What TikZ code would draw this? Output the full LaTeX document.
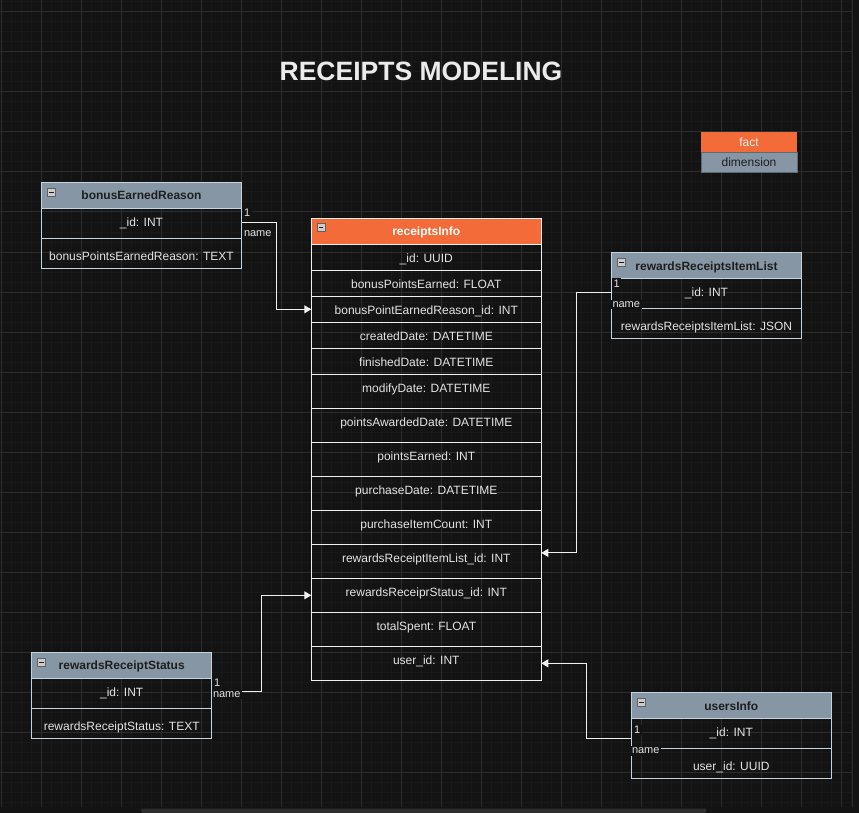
\documentclass[tikz,border=0pt]{standalone}
\usepackage{fontspec}
\setmainfont{Liberation Sans}
\usetikzlibrary{positioning,arrows.meta}
\definecolor{erbg}{RGB}{19,19,19}
\definecolor{ergridminor}{RGB}{25,25,25}
\definecolor{ergridmajor}{RGB}{45,45,45}
\definecolor{erslate}{RGB}{134,150,165}
\definecolor{erorange}{RGB}{242,107,56}
\definecolor{erborder}{RGB}{196,211,224}
\definecolor{erline}{RGB}{240,240,240}
\definecolor{ertext}{RGB}{228,228,228}
\definecolor{erdark}{RGB}{30,30,30}

\begin{document}
\begin{tikzpicture}[x=1pt, y=-1pt,
    every node/.style={font=\fontsize{12}{14}\selectfont, inner sep=0pt, outer sep=0pt, line width=1pt},
    dimhead/.style={draw=erborder, fill=erslate, text=erdark, font=\fontsize{12}{14}\selectfont\bfseries,
        minimum width=#1, minimum height=26pt, text height=8.6pt, text depth=0pt},
    facthead/.style={draw=erline, fill=erorange, text=white, font=\fontsize{12}{14}\selectfont\bfseries,
        minimum width=230pt, minimum height=26pt, text height=8.6pt, text depth=0pt},
    keyrow/.style={draw=erborder, text=ertext, minimum width=#1, minimum height=30pt, text height=17.7pt, text depth=12.3pt},
    attrrow/.style={draw=erborder, text=ertext, minimum width=#1, minimum height=30pt, text height=21.7pt, text depth=8.3pt},
    factrow/.style={draw=erline, text=ertext, minimum width=230pt, minimum height=26pt, text height=17.8pt, text depth=8.2pt},
    tallrow/.style={factrow, minimum height=34pt, text depth=16.2pt},
    collapse/.style={draw=erdark!70, fill=lightgray!80, text=erdark, minimum size=8pt, line width=0.6pt, anchor=north west},
    card/.style={font=\fontsize{11}{12}\selectfont, text=ertext, fill=erbg, inner sep=1.5pt, anchor=west},
    link/.style={draw=erline, line width=1pt, -{Triangle[length=7pt,width=8pt]}}
]
    \useasboundingbox (0,0) rectangle (859,813);
    \fill[erbg] (0,0) rectangle (859,813);

    % Canvas grid
    \foreach \x in {1,11,...,851} {
        \draw[ergridminor, line width=1pt] (\x,0) -- (\x,807);
    }
    \foreach \y in {2,12,...,802} {
        \draw[ergridminor, line width=1pt] (0,\y) -- (852,\y);
    }
    \foreach \x in {1,41,...,841} {
        \draw[ergridmajor, line width=1pt] (\x,0) -- (\x,807);
    }
    \foreach \y in {12,52,...,772} {
        \draw[ergridmajor, line width=1pt] (0,\y) -- (852,\y);
    }
    \draw[ergridmajor, line width=1.5pt] (852.5,0) -- (852.5,807);
    \fill[ergridmajor, rounded corners=2pt] (141,808.5) rectangle (706.5,813);

    % Title and legend
    \node[font=\fontsize{26.5}{30}\selectfont\bfseries, text=white!92!black, text height=19pt, text depth=0pt] (title) at (421,71.5) {RECEIPTS MODELING};
    \node[fill=erorange, text=white!95!black, minimum width=96pt, minimum height=20pt, text height=8.6pt, text depth=0pt, anchor=north west] (fact) at (701,132.3) {fact};
    \node[fill=erslate, draw=erslate!70!black, text=erdark, minimum width=96pt, minimum height=20pt, text height=8.6pt, text depth=0pt, below=0pt of fact] (dimension) {dimension};

    % bonusEarnedReason
    \node[dimhead=200pt, anchor=north west] (ber) at (41.5,182.5) {bonusEarnedReason};
    \node[keyrow=200pt, below=0pt of ber] (ber-id) {\_id: INT};
    \node[attrrow=200pt, below=0pt of ber-id] (ber-reason) {bonusPointsEarnedReason: TEXT};
    \node[collapse] (ber-minus) at ([xshift=6pt,yshift=-6pt]ber.north west) {\rule{4.5pt}{1pt}};

    % receiptsInfo (fact)
    \node[facthead, anchor=north west] (ri) at (311.3,218.3) {receiptsInfo};
    \node[factrow, below=0pt of ri] (ri-id) {\_id: UUID};
    \node[factrow, below=0pt of ri-id] (ri-bonusearned) {bonusPointsEarned: FLOAT};
    \node[factrow, below=0pt of ri-bonusearned] (ri-bonusreason) {bonusPointEarnedReason\_id: INT};
    \node[factrow, below=0pt of ri-bonusreason] (ri-created) {createdDate: DATETIME};
    \node[factrow, below=0pt of ri-created] (ri-finished) {finishedDate: DATETIME};
    \node[tallrow, below=0pt of ri-finished] (ri-modify) {modifyDate: DATETIME};
    \node[tallrow, below=0pt of ri-modify] (ri-awarded) {pointsAwardedDate: DATETIME};
    \node[tallrow, below=0pt of ri-awarded] (ri-points) {pointsEarned: INT};
    \node[tallrow, below=0pt of ri-points] (ri-purchase) {purchaseDate: DATETIME};
    \node[tallrow, below=0pt of ri-purchase] (ri-count) {purchaseItemCount: INT};
    \node[tallrow, below=0pt of ri-count] (ri-itemlist) {rewardsReceiptItemList\_id: INT};
    \node[tallrow, below=0pt of ri-itemlist] (ri-status) {rewardsReceiprStatus\_id: INT};
    \node[tallrow, below=0pt of ri-status] (ri-spent) {totalSpent: FLOAT};
    \node[tallrow, below=0pt of ri-spent] (ri-user) {user\_id: INT};
    \node[collapse] (ri-minus) at ([xshift=5.5pt,yshift=-5pt]ri.north west) {\rule{4.5pt}{1pt}};

    % rewardsReceiptsItemList
    \node[dimhead=189.6pt, anchor=north west] (rril) at (611.7,252.7) {rewardsReceiptsItemList};
    \node[keyrow=189.6pt, below=0pt of rril] (rril-id) {\_id: INT};
    \node[attrrow=189.6pt, below=0pt of rril-id] (rril-json) {rewardsReceiptsItemList: JSON};
    \node[collapse] (rril-minus) at ([xshift=6pt,yshift=-6pt]rril.north west) {\rule{4.5pt}{1pt}};

    % rewardsReceiptStatus
    \node[dimhead=180pt, anchor=north west] (rrs) at (31.7,652.3) {rewardsReceiptStatus};
    \node[keyrow=180pt, below=0pt of rrs] (rrs-id) {\_id: INT};
    \node[attrrow=180pt, below=0pt of rrs-id] (rrs-status) {rewardsReceiptStatus: TEXT};
    \node[collapse] (rrs-minus) at ([xshift=6pt,yshift=-6pt]rrs.north west) {\rule{4.5pt}{1pt}};

    % usersInfo
    \node[dimhead=200pt, anchor=north west] (ui) at (631.3,692.7) {usersInfo};
    \node[keyrow=200pt, below=0pt of ui] (ui-id) {\_id: INT};
    \node[attrrow=200pt, below=0pt of ui-id] (ui-uuid) {user\_id: UUID};
    \node[collapse] (ui-minus) at ([xshift=6pt,yshift=-6pt]ui.north west) {\rule{4.5pt}{1pt}};

    % Relations
    \draw[link] ([yshift=1.3pt]ber-id.east) -- ++(34.5,0) |- (ri-bonusreason.west);
    \draw[link] ([yshift=1.6pt]rril-id.west) -- ++(-35.5,0) |- ([yshift=-8.6pt]ri-itemlist.north east);
    \draw[link] ([yshift=2pt]rrs-id.east) -- ++(49.3,0) |- (ri-status.west);
    \draw[link] ([yshift=-5pt]ui-id.west) -- ++(-44.6,0) |- (ri-user.east);

    % Cardinality labels
    \node[card] (ber-one) at (242.5,213) {1};
    \node[card] (ber-name) at (242.5,234) {name};
    \node[card] (rril-one) at (612,283.5) {1};
    \node[card] (rril-name) at (611,304.3) {name};
    \node[card] (rrs-one) at (212.5,683) {1};
    \node[card] (rrs-name) at (211.5,694.3) {name};
    \node[card] (ui-one) at (632.5,730) {1};
    \node[card] (ui-name) at (630.5,751) {name};
\end{tikzpicture}
\end{document}
